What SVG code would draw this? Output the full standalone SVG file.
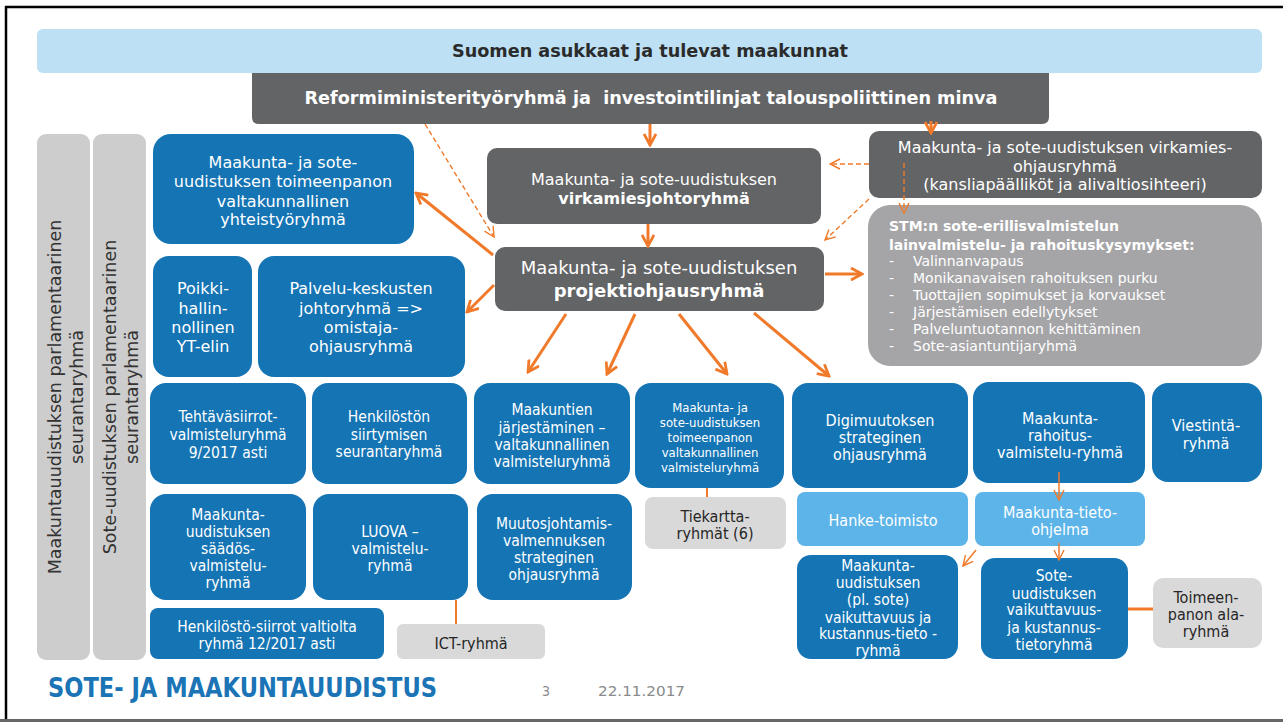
<svg xmlns="http://www.w3.org/2000/svg" width="1283" height="722" viewBox="0 0 1283 722">
<style>
.t{font-family:'DejaVu Sans',Verdana,sans-serif;text-anchor:middle}
.c{font-family:'DejaVu Sans Condensed','DejaVu Sans',sans-serif;font-stretch:condensed;text-anchor:middle}
.w{fill:#ffffff}
.k{fill:#262626}
.b{font-weight:bold}
.blue{fill:#1474B4}
.dg{fill:#636466}
.lg{fill:#D9D9D9}
.lb{fill:#5CB4E8}
.bar{fill:#CDCDCD}
.s{stroke:#F07A2A;fill:none;stroke-width:3}
.th{stroke:#F07A2A;fill:none;stroke-width:1.5}
.d{stroke:#F07A2A;fill:none;stroke-width:1.4;stroke-dasharray:5 3}
</style>
<defs>
<marker id="ah" viewBox="0 0 14 14" refX="12" refY="7" markerWidth="14" markerHeight="14" orient="auto" markerUnits="userSpaceOnUse">
<path d="M1,1 L12,7 L1,13" fill="none" stroke="#F07A2A" stroke-width="2.8"/>
</marker>
<marker id="at" viewBox="0 0 12 12" refX="11" refY="6" markerWidth="12" markerHeight="12" orient="auto" markerUnits="userSpaceOnUse">
<path d="M1,1 L11,6 L1,11" fill="none" stroke="#F07A2A" stroke-width="1.4"/>
</marker>
</defs>
<rect x="0" y="0" width="1283" height="722" fill="#ffffff"/>
<line x1="5" y1="7" x2="1283" y2="7" stroke="#000" stroke-width="2.5"/>
<line x1="6" y1="6" x2="6" y2="720" stroke="#000" stroke-width="2.5"/>
<rect x="0" y="719" width="1283" height="3" fill="#666666"/>

<g id="top">
<rect x="37" y="29" width="1225" height="44" rx="6" fill="#BDE0F5"/>
<text class="t b" x="650" y="57" font-size="17" fill="#2b2b2b" textLength="396" lengthAdjust="spacingAndGlyphs">Suomen asukkaat ja tulevat maakunnat</text>
</g>
<g id="reformi">
<path d="M252,73 H1049 V117 Q1049,124 1042,124 H259 Q252,124 252,117 Z" class="dg"/>
<text class="t b w" x="651" y="104" font-size="17" textLength="693" lengthAdjust="spacingAndGlyphs">Reformiministerityöryhmä ja&#160; investointilinjat talouspoliittinen minva</text>
</g>

<g id="parl1">
<rect x="37" y="134" width="53" height="526" rx="9" class="bar"/>
<text class="t" font-size="17.5" fill="#333" transform="translate(61,397) rotate(-90)">Maakuntauudistuksen parlamentaarinen</text>
<text class="t" font-size="17.5" fill="#333" transform="translate(83,397) rotate(-90)">seurantaryhmä</text>
</g>
<g id="parl2">
<rect x="93" y="134" width="53" height="526" rx="9" class="bar"/>
<text class="t" font-size="17.5" fill="#333" transform="translate(116,397) rotate(-90)">Sote-uudistuksen parlamentaarinen</text>
<text class="t" font-size="17.5" fill="#333" transform="translate(138,397) rotate(-90)">seurantaryhmä</text>
</g>

<g id="yhteistyo">
<rect x="153" y="134" width="261" height="110" rx="18" class="blue"/>
<text class="t w" font-size="16" x="283"><tspan x="283" y="168">Maakunta- ja sote-</tspan><tspan x="283" y="187">uudistuksen toimeenpanon</tspan><tspan x="283" y="207">valtakunnallinen</tspan><tspan x="283" y="225">yhteistyöryhmä</tspan></text>
</g>
<g id="poikki">
<rect x="153" y="256" width="99" height="121" rx="16" class="blue"/>
<text class="t w" font-size="16"><tspan x="203" y="294">Poikki-</tspan><tspan x="203" y="314">hallin-</tspan><tspan x="203" y="333">nollinen</tspan><tspan x="203" y="352">YT-elin</tspan></text>
</g>
<g id="palvelu">
<rect x="258" y="256" width="207" height="121" rx="16" class="blue"/>
<text class="t w" font-size="16"><tspan x="361" y="294">Palvelu-keskusten</tspan><tspan x="361" y="314">johtoryhmä =&gt;</tspan><tspan x="361" y="333">omistaja-</tspan><tspan x="361" y="352">ohjausryhmä</tspan></text>
</g>

<g id="virkamiesjohto">
<rect x="487" y="148" width="334" height="76" rx="10" class="dg"/>
<text class="t w" font-size="16"><tspan x="654" y="185">Maakunta- ja sote-uudistuksen</tspan><tspan x="654" y="204" font-weight="bold">virkamiesjohtoryhmä</tspan></text>
</g>
<g id="projekti">
<rect x="495" y="247" width="329" height="64" rx="10" class="dg"/>
<text class="t w" font-size="18"><tspan x="659" y="274">Maakunta- ja sote-uudistuksen</tspan><tspan x="659" y="297" font-weight="bold">projektiohjausryhmä</tspan></text>
</g>
<g id="virkohjaus">
<rect x="869" y="131" width="393" height="67" rx="10" class="dg"/>
<text class="t w" font-size="16"><tspan x="1065" y="153">Maakunta- ja sote-uudistuksen virkamies-</tspan><tspan x="1065" y="172">ohjausryhmä</tspan><tspan x="1065" y="190">(kansliapäälliköt ja alivaltiosihteeri)</tspan></text>
</g>
<g id="stm">
<rect x="868" y="205" width="394" height="161" rx="22" fill="#A5A5A7"/>
<text font-family="'DejaVu Sans',Verdana,sans-serif" font-size="14" fill="#ffffff">
<tspan x="889" y="231" font-weight="bold">STM:n sote-erillisvalmistelun</tspan>
<tspan x="889" y="250" font-weight="bold">lainvalmistelu- ja rahoituskysymykset:</tspan>
<tspan x="889" y="266">-</tspan><tspan x="913" y="266">Valinnanvapaus</tspan>
<tspan x="889" y="283">-</tspan><tspan x="913" y="283">Monikanavaisen rahoituksen purku</tspan>
<tspan x="889" y="300">-</tspan><tspan x="913" y="300">Tuottajien sopimukset ja korvaukset</tspan>
<tspan x="889" y="317">-</tspan><tspan x="913" y="317">Järjestämisen edellytykset</tspan>
<tspan x="889" y="334">-</tspan><tspan x="913" y="334">Palveluntuotannon kehittäminen</tspan>
<tspan x="889" y="351">-</tspan><tspan x="913" y="351">Sote-asiantuntijaryhmä</tspan>
</text>
</g>

<g id="tehtava">
<rect x="150" y="383" width="156" height="101" rx="16" class="blue"/>
<text class="c w" font-size="15.5"><tspan x="228" y="422">Tehtäväsiirrot-</tspan><tspan x="228" y="440">valmisteluryhmä</tspan><tspan x="228" y="458">9/2017 asti</tspan></text>
</g>
<g id="henkilosto">
<rect x="312" y="383" width="155" height="101" rx="16" class="blue"/>
<text class="c w" font-size="15.5"><tspan x="389" y="422">Henkilöstön</tspan><tspan x="389" y="440">siirtymisen</tspan><tspan x="389" y="457">seurantaryhmä</tspan></text>
</g>
<g id="maakuntien">
<rect x="474" y="383" width="156" height="101" rx="16" class="blue"/>
<text class="c w" font-size="15.5"><tspan x="552" y="415">Maakuntien</tspan><tspan x="552" y="433">järjestäminen –</tspan><tspan x="552" y="450">valtakunnallinen</tspan><tspan x="552" y="467">valmisteluryhmä</tspan></text>
</g>
<g id="toimeenpano">
<rect x="635" y="383" width="149" height="105" rx="16" class="blue"/>
<text class="c w" font-size="13"><tspan x="710" y="412">Maakunta- ja</tspan><tspan x="710" y="427">sote-uudistuksen</tspan><tspan x="710" y="442">toimeenpanon</tspan><tspan x="710" y="457">valtakunnallinen</tspan><tspan x="710" y="472">valmisteluryhmä</tspan></text>
</g>
<g id="digi">
<rect x="792" y="383" width="176" height="105" rx="16" class="blue"/>
<text class="c w" font-size="16"><tspan x="880" y="426">Digimuutoksen</tspan><tspan x="880" y="443">strateginen</tspan><tspan x="880" y="460">ohjausryhmä</tspan></text>
</g>
<g id="rahoitus">
<rect x="973" y="382" width="172" height="101" rx="16" class="blue"/>
<text class="c w" font-size="16"><tspan x="1060" y="424">Maakunta-</tspan><tspan x="1060" y="441">rahoitus-</tspan><tspan x="1060" y="458">valmistelu-ryhmä</tspan></text>
</g>
<g id="viestinta">
<rect x="1152" y="383" width="110" height="99" rx="16" class="blue"/>
<text class="c w" font-size="16"><tspan x="1206" y="431">Viestintä-</tspan><tspan x="1206" y="449">ryhmä</tspan></text>
</g>

<g id="saados">
<rect x="150" y="494" width="156" height="106" rx="16" class="blue"/>
<text class="c w" font-size="15.5"><tspan x="228" y="520">Maakunta-</tspan><tspan x="228" y="537">uudistuksen</tspan><tspan x="228" y="554">säädös-</tspan><tspan x="228" y="571">valmistelu-</tspan><tspan x="228" y="588">ryhmä</tspan></text>
</g>
<g id="luova">
<rect x="313" y="494" width="155" height="106" rx="16" class="blue"/>
<text class="c w" font-size="15.5"><tspan x="390" y="537">LUOVA –</tspan><tspan x="390" y="554">valmistelu-</tspan><tspan x="390" y="571">ryhmä</tspan></text>
</g>
<g id="muutos">
<rect x="477" y="494" width="155" height="106" rx="16" class="blue"/>
<text class="c w" font-size="15.5"><tspan x="554" y="529">Muutosjohtamis-</tspan><tspan x="554" y="546">valmennuksen</tspan><tspan x="554" y="563">strateginen</tspan><tspan x="554" y="580">ohjausryhmä</tspan></text>
</g>
<g id="siirrot">
<rect x="150" y="608" width="234" height="51" rx="8" class="blue"/>
<text class="c w" font-size="15.5"><tspan x="267" y="632">Henkilöstö-siirrot valtiolta</tspan><tspan x="267" y="649">ryhmä 12/2017 asti</tspan></text>
</g>
<g id="ict">
<rect x="397" y="624" width="148" height="35" rx="6" class="lg"/>
<text class="c k" font-size="16" x="471" y="649">ICT-ryhmä</text>
</g>
<g id="tiekartta">
<rect x="645" y="497" width="141" height="52" rx="8" class="lg"/>
<text class="c k" font-size="16"><tspan x="715" y="522">Tiekartta-</tspan><tspan x="715" y="539">ryhmät (6)</tspan></text>
</g>
<g id="hanke">
<rect x="797" y="492" width="171" height="54" rx="8" class="lb"/>
<text class="c w" font-size="16" x="883" y="526">Hanke-toimisto</text>
</g>
<g id="tieto">
<rect x="975" y="492" width="170" height="54" rx="8" class="lb"/>
<text class="c w" font-size="16"><tspan x="1060" y="518">Maakunta-tieto-</tspan><tspan x="1060" y="535">ohjelma</tspan></text>
</g>
<g id="plsote">
<rect x="797" y="555" width="161" height="104" rx="14" class="blue"/>
<text class="c w" font-size="15.5"><tspan x="878" y="571">Maakunta-</tspan><tspan x="878" y="588">uudistuksen</tspan><tspan x="878" y="605">(pl. sote)</tspan><tspan x="878" y="623">vaikuttavuus ja</tspan><tspan x="878" y="639">kustannus-tieto -</tspan><tspan x="878" y="656">ryhmä</tspan></text>
</g>
<g id="sote">
<rect x="981" y="558" width="147" height="101" rx="14" class="blue"/>
<text class="c w" font-size="15.5"><tspan x="1054" y="581">Sote-</tspan><tspan x="1054" y="599">uudistuksen</tspan><tspan x="1054" y="615">vaikuttavuus-</tspan><tspan x="1054" y="633">ja kustannus-</tspan><tspan x="1054" y="650">tietoryhmä</tspan></text>
</g>
<g id="alaryhma">
<rect x="1153" y="578" width="109" height="70" rx="10" class="lg"/>
<text class="c k" font-size="16"><tspan x="1206" y="603">Toimeen-</tspan><tspan x="1206" y="620">panon ala-</tspan><tspan x="1206" y="637">ryhmä</tspan></text>
</g>

<g id="connectors">
<line class="s" x1="650" y1="124" x2="650" y2="145" marker-end="url(#ah)"/>
<line class="s" x1="931" y1="121" x2="931" y2="133" marker-end="url(#ah)"/>
<line class="s" x1="648" y1="224" x2="648" y2="246" marker-end="url(#ah)"/>
<line class="s" x1="825" y1="274" x2="862" y2="274" marker-end="url(#ah)"/>
<line class="s" x1="493" y1="255" x2="416" y2="193" marker-end="url(#ah)"/>
<line class="s" x1="494" y1="285" x2="467" y2="312" marker-end="url(#ah)"/>
<line class="s" x1="566" y1="314" x2="528" y2="372" marker-end="url(#ah)"/>
<line class="s" x1="635" y1="314" x2="607" y2="374" marker-end="url(#ah)"/>
<line class="s" x1="679" y1="314" x2="727" y2="374" marker-end="url(#ah)"/>
<line class="s" x1="754" y1="313" x2="829" y2="376" marker-end="url(#ah)"/>
<line class="d" x1="425" y1="124" x2="494" y2="237" marker-end="url(#at)"/>
<line class="d" x1="869" y1="164" x2="830" y2="164" marker-end="url(#at)"/>
<line class="d" x1="869" y1="199" x2="825" y2="240" marker-end="url(#at)"/>
<line class="d" x1="904" y1="163" x2="904" y2="213" marker-end="url(#at)"/>
<line class="th" x1="1059" y1="472" x2="1059" y2="500" marker-end="url(#at)"/>
<line class="th" x1="1059" y1="543" x2="1059" y2="560" marker-end="url(#at)"/>
<line class="th" x1="976" y1="550" x2="963" y2="566" marker-end="url(#at)"/>
<line stroke="#F07A2A" stroke-width="2" x1="456" y1="600" x2="456" y2="624"/>
<line stroke="#F07A2A" stroke-width="2" x1="707" y1="488" x2="707" y2="497"/>
<line stroke="#F07A2A" stroke-width="3" x1="1128" y1="609" x2="1153" y2="609"/>
</g>

<g id="footer">
<text font-family="'DejaVu Sans Condensed','DejaVu Sans',sans-serif" font-stretch="condensed" font-weight="bold" font-size="26" fill="#1A74B5" x="48" y="697" textLength="389" lengthAdjust="spacingAndGlyphs">SOTE- JA MAAKUNTAUUDISTUS</text>
<text font-family="'DejaVu Sans Condensed','DejaVu Sans',sans-serif" font-stretch="condensed" font-size="14" fill="#8a8a8a" x="542" y="696">3</text>
<text font-family="'DejaVu Sans Condensed','DejaVu Sans',sans-serif" font-stretch="condensed" font-size="14" fill="#8a8a8a" x="598" y="696" textLength="87" lengthAdjust="spacingAndGlyphs">22.11.2017</text>
</g>
</svg>
